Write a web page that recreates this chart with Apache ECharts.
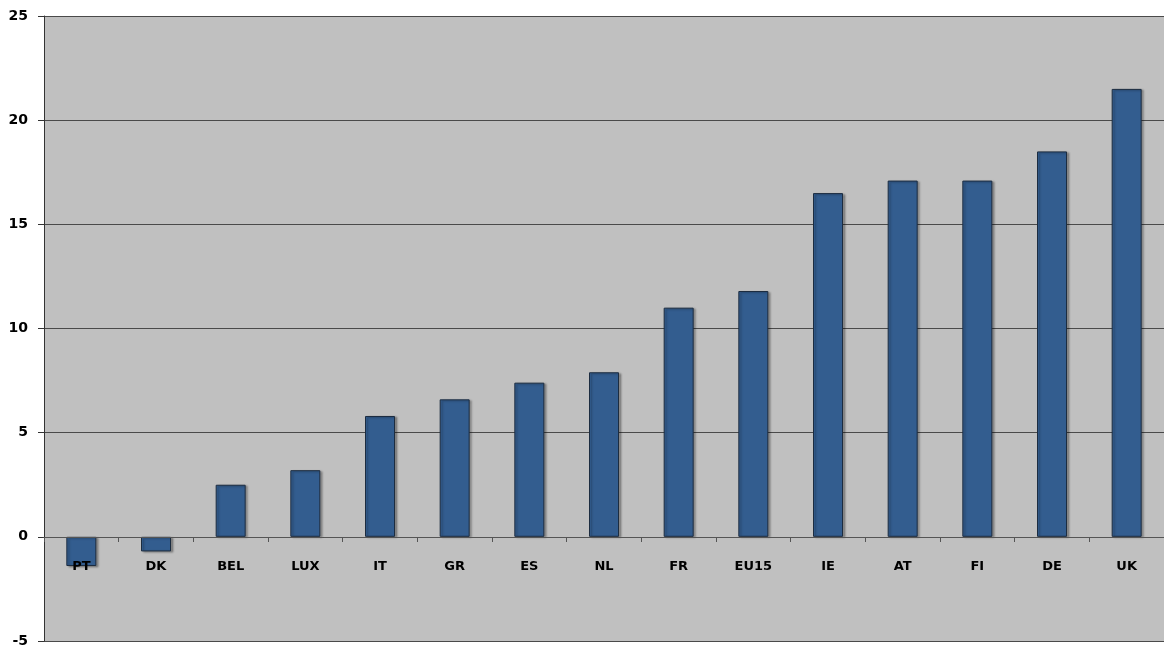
<!DOCTYPE html>
<html>
<head>
<meta charset="utf-8">
<script src="https://cdn.jsdelivr.net/npm/echarts@6/dist/echarts.min.js"></script>
<style>
  html, body { margin: 0; padding: 0; background: #ffffff; }
  #chart { width: 1164px; height: 648px; }
</style>
</head>
<body>
<div id="chart"></div>
<script>
const categories = ['PT', 'DK', 'BEL', 'LUX', 'IT', 'GR', 'ES', 'NL', 'FR', 'EU15', 'IE', 'AT', 'FI', 'DE', 'UK']
const values = [-1.4, -0.7, 2.5, 3.2, 5.8, 6.6, 7.4, 7.9, 11.0, 11.8, 16.5, 17.1, 17.1, 18.5, 21.5]

const chart = echarts.init(document.getElementById('chart'))

// plot spans 625px for 30 units; zero line sits 5 units above the bottom
const plotTop = 16, plotBottom = 7
const plotH = 648 - plotTop - plotBottom

const option = {
  animation: false,
  backgroundColor: '#ffffff',
  grid: {
    left: 44, right: 0, top: plotTop, bottom: plotBottom,
    outerBoundsMode: 'none',
    show: true, backgroundColor: '#c0c0c0', borderWidth: 0
  },
  xAxis: {
    type: 'category',
    data: categories,
    position: 'bottom',
    offset: -Math.round(plotH * 5 / 30),
    axisLine: { onZero: false, lineStyle: { color: '#555555', width: 1 } },
    axisTick: { show: true, length: 5, inside: false, lineStyle: { color: '#555555' } },
    axisLabel: {
      margin: 23,
      color: '#000000',
      fontFamily: 'DejaVu Sans',
      fontWeight: 'bold',
      fontSize: 13
    },
    z: 5
  },
  yAxis: {
    type: 'value',
    min: -5, max: 25, interval: 5,
    axisLine: { show: true, lineStyle: { color: '#333333', width: 1 } },
    axisTick: { show: true, length: 6, lineStyle: { color: '#333333' } },
    axisLabel: {
      margin: 16,
      color: '#000000',
      fontFamily: 'DejaVu Sans',
      fontWeight: 'bold',
      fontSize: 14
    },
    splitLine: { show: true, lineStyle: { color: '#4a4a4a', width: 1 } }
  },
  series: [{
    type: 'bar',
    data: values,
    barWidth: 30,
    itemStyle: {
      color: '#335d8f',
      borderColor: '#1c2c40',
      borderWidth: 1,
      shadowColor: 'rgba(0,0,0,0.3)',
      shadowOffsetX: 2,
      shadowOffsetY: 1,
      shadowBlur: 2
    },
    z: 3
  }]
}

chart.setOption(option)
</script>
</body>
</html>
